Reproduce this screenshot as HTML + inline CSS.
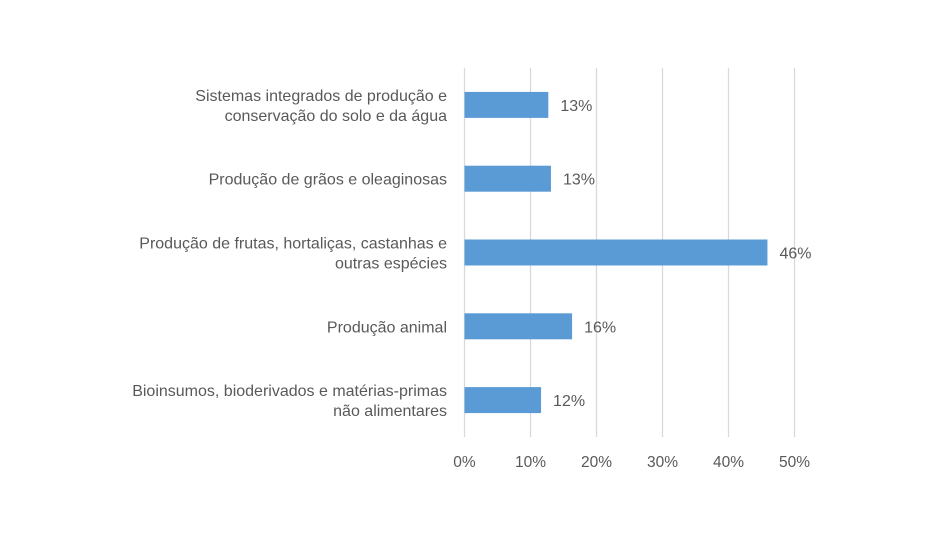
<!DOCTYPE html>
<html><head><meta charset="utf-8">
<style>
html,body{margin:0;padding:0;background:#fff;}
svg text{font-family:"Liberation Sans",sans-serif;fill:#595959;}
</style></head>
<body>
<svg id="chart" width="940" height="530" xmlns="http://www.w3.org/2000/svg">
<g id="grid"></g>
<g id="bars"></g>
<g id="cats"></g>
<g id="ticks"></g>
</svg>
<script>
const categories = [
  ["Sistemas integrados de produção e","conservação do solo e da água"],
  ["Produção de grãos e oleaginosas"],
  ["Produção de frutas, hortaliças, castanhas e","outras espécies"],
  ["Produção animal"],
  ["Bioinsumos, bioderivados e matérias-primas","não alimentares"]
];
const values = [12.7, 13.1, 45.9, 16.3, 11.6];
const valueLabels = ["13%","13%","46%","16%","12%"];
const ticks = [0,10,20,30,40,50];
const tickLabels = ["0%","10%","20%","30%","40%","50%"];

const NS="http://www.w3.org/2000/svg";
const x0=464.5, x50=794.5, yTop=68, yBottom=437;
const xs=v=>x0+(x50-x0)*v/50;
const band=(yBottom-yTop)/categories.length;
const yc=i=>yTop+band*(i+0.5);
function mk(tag,attrs,parent,text){const e=document.createElementNS(NS,tag);for(const k in attrs)e.setAttribute(k,attrs[k]);if(text!=null)e.textContent=text;parent.appendChild(e);return e;}
const grid=document.getElementById('grid'),bars=document.getElementById('bars'),cats=document.getElementById('cats'),tk=document.getElementById('ticks');
ticks.forEach((t,i)=>{
  const l=mk('line',{x1:xs(t),x2:xs(t),y1:yTop,y2:yBottom,stroke:'#d9d9d9','stroke-width':1.3},grid);
  
  
  const tx=mk('text',{x:xs(t),y:467,'text-anchor':'middle','font-size':15.5},tk,tickLabels[i]);
  
  
});
values.forEach((v,i)=>{
  const h=26,y=yc(i)-h/2;
  const r=mk('rect',{x:x0,y:y,width:xs(v)-x0,height:h,fill:'#5b9bd5'},bars);
  
  
  const lb=mk('text',{x:xs(v)+12,y:yc(i)+6,'font-size':16},bars,valueLabels[i]);
  
  
  const lines=categories[i];
  const t=mk('text',{x:447,'text-anchor':'end','font-size':16},cats);
  
  
  lines.forEach((s,j)=>{
    const dy=yc(i)+6+(j-(lines.length-1)/2)*20;
    mk('tspan',{x:447,y:dy},t,s);
  });
});
</script>
</body></html>
